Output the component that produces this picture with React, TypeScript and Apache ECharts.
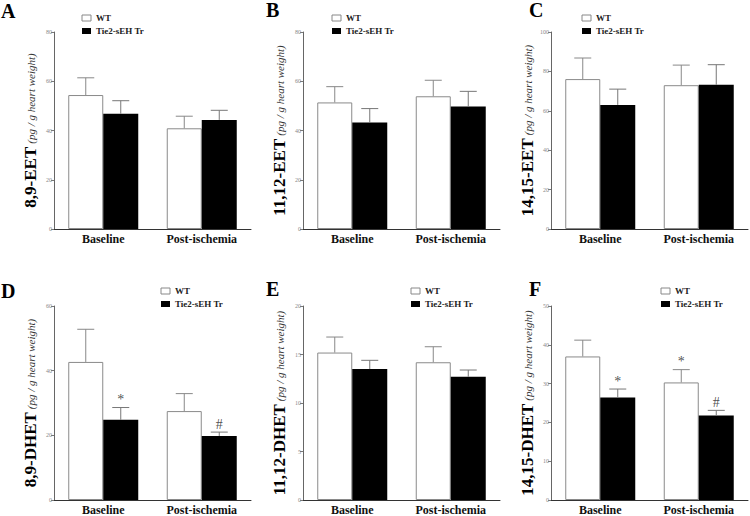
import React, { useEffect, useRef } from "react";
import * as echarts from "echarts";

const categories = ["Baseline", "Post-ischemia"];

// Panel A: 8,9-EET
const eet89WT = [54.4, 40.9];
const eet89WTErr = [7.0, 4.9];
const eet89Tg = [46.8, 44.3];
const eet89TgErr = [5.3, 3.9];
// Panel B: 11,12-EET
const eet1112WT = [51.4, 53.9];
const eet1112WTErr = [6.4, 6.5];
const eet1112Tg = [43.2, 49.7];
const eet1112TgErr = [5.7, 6.2];
// Panel C: 14,15-EET
const eet1415WT = [76.1, 73.0];
const eet1415WTErr = [10.7, 10.2];
const eet1415Tg = [63.0, 73.2];
const eet1415TgErr = [8.0, 10.2];
// Panel D: 8,9-DHET
const dhet89WT = [42.7, 27.5];
const dhet89WTErr = [10.1, 5.4];
const dhet89Tg = [24.8, 19.8];
const dhet89TgErr = [3.8, 1.2];
// Panel E: 11,12-DHET
const dhet1112WT = [15.2, 14.2];
const dhet1112WTErr = [1.6, 1.6];
const dhet1112Tg = [13.5, 12.7];
const dhet1112TgErr = [0.9, 0.7];
// Panel F: 14,15-DHET
const dhet1415WT = [37.0, 30.3];
const dhet1415WTErr = [4.2, 3.3];
const dhet1415Tg = [26.4, 21.8];
const dhet1415TgErr = [2.2, 1.3];

const noMarks = ["", ""];
const dhet89TgMarks = ["*", "#"];
const dhet1415WTMarks = ["", "*"];
const dhet1415TgMarks = ["*", "#"];

const panelLetters = ["A", "B", "C", "D", "E", "F"];
const analyteNames = ["8,9-EET", "11,12-EET", "14,15-EET", "8,9-DHET", "11,12-DHET", "14,15-DHET"];
const unitLabel = "(pg / g heart weight)";
const yMax = [80, 80, 100, 60, 20, 50];
const yInterval = [20, 20, 20, 20, 5, 10];
const legendNames = ["WT", "Tie2-sEH Tr"];

const SERIF = '"Liberation Serif", "Times New Roman", serif';

const panels = [
  { wt: eet89WT, wtErr: eet89WTErr, tg: eet89Tg, tgErr: eet89TgErr, wtMarks: noMarks, tgMarks: noMarks },
  { wt: eet1112WT, wtErr: eet1112WTErr, tg: eet1112Tg, tgErr: eet1112TgErr, wtMarks: noMarks, tgMarks: noMarks },
  { wt: eet1415WT, wtErr: eet1415WTErr, tg: eet1415Tg, tgErr: eet1415TgErr, wtMarks: noMarks, tgMarks: noMarks },
  { wt: dhet89WT, wtErr: dhet89WTErr, tg: dhet89Tg, tgErr: dhet89TgErr, wtMarks: noMarks, tgMarks: dhet89TgMarks },
  { wt: dhet1112WT, wtErr: dhet1112WTErr, tg: dhet1112Tg, tgErr: dhet1112TgErr, wtMarks: noMarks, tgMarks: noMarks },
  { wt: dhet1415WT, wtErr: dhet1415WTErr, tg: dhet1415Tg, tgErr: dhet1415TgErr, wtMarks: dhet1415WTMarks, tgMarks: dhet1415TgMarks },
];

const BAR_W = 35;
const gridLefts = [54, 303, 551];
const gridWidths = [197, 197, 197];
const gridTops = [32, 306];
const gridHeight = 197;
const colOffsets = [0, 250, 500];

function errorSeries(k: number, vals: number[], errs: number[], side: number, color: string) {
  return {
    type: "custom",
    xAxisIndex: k,
    yAxisIndex: k,
    z: 5,
    silent: true,
    color: color,
    data: vals.map((v, i) => [i, v, errs[i]]),
    renderItem: (params: any, api: any) => {
      const i = api.value(0);
      const v = api.value(1);
      const e = api.value(2);
      const base = api.coord([i, v]);
      const top = api.coord([i, v + e]);
      const x = base[0] + side * (BAR_W / 2);
      return {
        type: "group",
        children: [
          { type: "line", shape: { x1: x, y1: base[1], x2: x, y2: top[1] }, style: { stroke: color, lineWidth: 1 } },
          { type: "line", shape: { x1: x - 8.5, y1: top[1], x2: x + 8.5, y2: top[1] }, style: { stroke: color, lineWidth: 1 } },
        ],
      };
    },
  };
}

function markSeries(k: number, vals: number[], errs: number[], marks: string[], side: number) {
  return {
    type: "scatter",
    xAxisIndex: k,
    yAxisIndex: k,
    z: 6,
    silent: true,
    symbolSize: 0,
    itemStyle: { color: "transparent" },
    data: vals.map((v, i) => [i, v + errs[i], marks[i]]),
    label: {
      show: true,
      position: "top",
      distance: 0,
      offset: [side * (BAR_W / 2), -1],
      formatter: (p: any) => p.value[2],
      fontFamily: SERIF,
      fontSize: 14,
      color: "#222",
    },
  };
}

export default function App() {
  const ref = useRef<HTMLDivElement>(null);
  useEffect(() => {
    document.body.style.margin = "0";
    if (!ref.current) return;
    const chart = echarts.init(ref.current, undefined, { renderer: "svg" });

    const grids: any[] = [];
    const xAxes: any[] = [];
    const yAxes: any[] = [];
    const series: any[] = [];
    const graphics: any[] = [];

    for (let k = 0; k < 6; k++) {
      const row = Math.floor(k / 3);
      const col = k % 3;
      grids.push({
        left: gridLefts[col],
        top: gridTops[row],
        width: gridWidths[col],
        height: gridHeight,
        containLabel: false,
      });
      xAxes.push({
        type: "category",
        gridIndex: k,
        data: categories,
        axisTick: { show: false },
        axisLine: { lineStyle: { color: "#333", width: 1 } },
        axisLabel: {
          margin: 4,
          fontFamily: SERIF,
          fontWeight: "bold",
          fontSize: 12,
          color: "#111",
        },
      });
      yAxes.push({
        type: "value",
        gridIndex: k,
        min: 0,
        max: yMax[k],
        interval: yInterval[k],
        splitLine: { show: false },
        axisLine: { show: true, lineStyle: { color: "#666", width: 1 } },
        axisTick: { show: true, length: 3, lineStyle: { color: "#777" } },
        axisLabel: { fontSize: 6, color: "#888", margin: 2, fontFamily: SERIF },
        name: `{b|${analyteNames[k]}} {i|${unitLabel}}`,
        nameLocation: "middle",
        nameRotate: 90,
        nameGap: 15,
        nameTextStyle: {
          fontFamily: SERIF,
          fontSize: 12,
          rich: {
            b: { fontFamily: SERIF, fontWeight: "bold", fontSize: 17, color: "#000" },
            i: { fontFamily: SERIF, fontStyle: "italic", fontSize: 11, color: "#333" },
          },
        },
      });
      const p = panels[k];
      series.push({
        type: "bar",
        name: legendNames[0],
        xAxisIndex: k,
        yAxisIndex: k,
        barWidth: BAR_W,
        barGap: "0%",
        data: p.wt,
        itemStyle: { color: "#ffffff", borderColor: "#8a8a8a", borderWidth: 1 },
      });
      series.push({
        type: "bar",
        name: legendNames[1],
        xAxisIndex: k,
        yAxisIndex: k,
        barWidth: BAR_W,
        barGap: "0%",
        data: p.tg,
        itemStyle: { color: "#000000" },
      });
      series.push(errorSeries(k, p.wt, p.wtErr, -1, "#888"));
      series.push(errorSeries(k, p.tg, p.tgErr, 1, "#777"));
      if (p.wtMarks.some((m) => m)) series.push(markSeries(k, p.wt, p.wtErr, p.wtMarks, -1));
      if (p.tgMarks.some((m) => m)) series.push(markSeries(k, p.tg, p.tgErr, p.tgMarks, 1));

      // legend
      const ox = colOffsets[col];
      const lx = row === 0 ? 82 : 161;
      const ly = row === 0 ? 15 : 288;
      graphics.push({
        type: "rect",
        shape: { x: ox + lx, y: ly, width: 9, height: 6 },
        style: { fill: "#fff", stroke: "#888", lineWidth: 1 },
      });
      graphics.push({
        type: "rect",
        shape: { x: ox + lx, y: ly + 13, width: 9, height: 6 },
        style: { fill: "#000" },
      });
      graphics.push({
        type: "text",
        style: {
          text: legendNames[0],
          x: ox + lx + 14,
          y: ly + 3,
          verticalAlign: "middle",
          fontFamily: SERIF,
          fontWeight: "bold",
          fontSize: 9,
          fill: "#222",
        },
      });
      graphics.push({
        type: "text",
        style: {
          text: legendNames[1],
          x: ox + lx + 14,
          y: ly + 16,
          verticalAlign: "middle",
          fontFamily: SERIF,
          fontWeight: "bold",
          fontSize: 9,
          fill: "#222",
        },
      });
      // panel letter
      const letterX = [1, 266, 529][col];
      const letterY = row === 0 ? [1, 0, 0][col] : [281, 279, 279][col];
      graphics.push({
        type: "text",
        style: {
          text: panelLetters[k],
          x: letterX,
          y: letterY,
          verticalAlign: "top",
          fontFamily: SERIF,
          fontWeight: "bold",
          fontSize: 20,
          fill: "#000",
        },
      });
    }

    chart.setOption({
      animation: false,
      backgroundColor: "#ffffff",
      grid: grids,
      xAxis: xAxes,
      yAxis: yAxes,
      series,
      graphic: graphics,
    });
    return () => chart.dispose();
  }, []);
  return <div ref={ref} style={{ width: 750, height: 516 }} />;
}
